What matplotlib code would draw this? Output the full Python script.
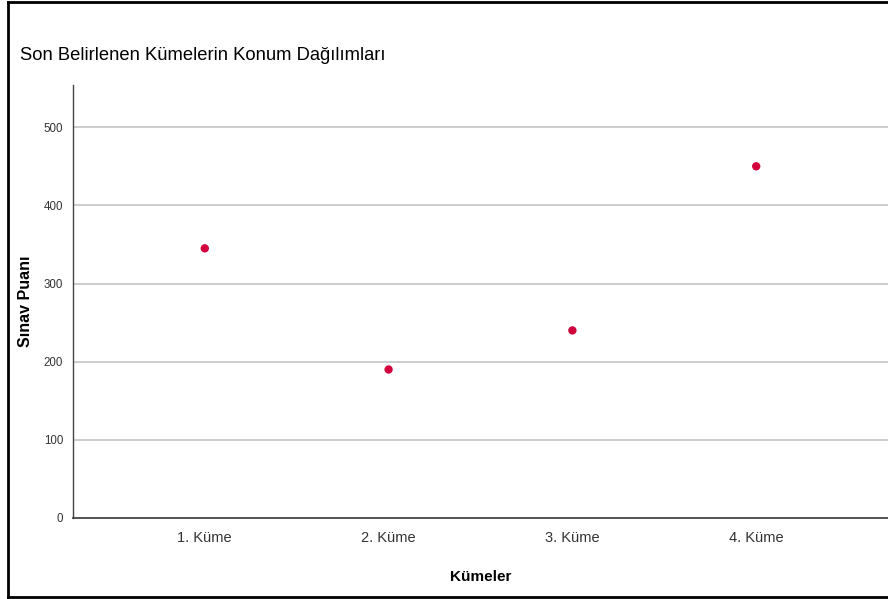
import numpy as np
import matplotlib.pyplot as plt
from matplotlib.lines import Line2D

plt.rcParams['font.family'] = ['Liberation Sans', 'DejaVu Sans']

# cluster positions
categories = ["1. Küme", "2. Küme", "3. Küme", "4. Küme"]
scores = [345, 190, 240, 450]
yticks = [0, 100, 200, 300, 400, 500]

fig = plt.figure(figsize=(8.88, 5.99), dpi=100)
ax = fig.add_axes([73/888, 1-518/599, 815/888, 433/599])

x = np.arange(1, len(categories)+1)
ax.scatter(x, scores, s=36, color='#D2003C', zorder=3, edgecolors='none')

ax.set_xlim(0.283, 4.717)
ax.set_ylim(0, 554)
ax.set_xticks(x)
ax.set_xticklabels(categories, fontsize=10.5, color='#333333')
ax.set_yticks(yticks)
ax.set_yticklabels([str(t) for t in yticks], fontsize=8.3, color='#333333')
ax.tick_params(length=0, pad=7)
ax.tick_params(axis='x', pad=9)

for t in yticks[1:]:
    ax.axhline(t, color='#C8C8C8', lw=1.3, zorder=1)

for s in ['top', 'right']:
    ax.spines[s].set_visible(False)
ax.spines['left'].set_color('#444444')
ax.spines['bottom'].set_color('#444444')
ax.spines['left'].set_linewidth(1.0)
ax.spines['bottom'].set_linewidth(1.3)

ax.set_ylabel("Sınav Puanı", fontsize=11.5, fontweight='bold')
ax.yaxis.set_label_coords((25-73)/815, 0.5)
ax.set_xlabel("Kümeler", fontsize=11, fontweight='bold')
ax.xaxis.set_label_coords(0.5, -(577-518)/433)
ax.xaxis.label.set_va('center')
ax.yaxis.label.set_va('center')

fig.text(20/888, 1-55/599, "Son Belirlenen Kümelerin Konum Dağılımları",
         fontsize=13.2, va='center', ha='left')

# outer frame (right edge is cropped off)
kw = dict(color='black', lw=2, transform=fig.transFigure)
fig.add_artist(Line2D([8/888, 1], [1-1.5/599, 1-1.5/599], **kw))
fig.add_artist(Line2D([8/888, 8/888], [1-1.5/599, 1-597/599], **kw))
fig.add_artist(Line2D([8/888, 1], [1-597/599, 1-597/599], **kw))

fig.savefig("out.png", dpi=100)
